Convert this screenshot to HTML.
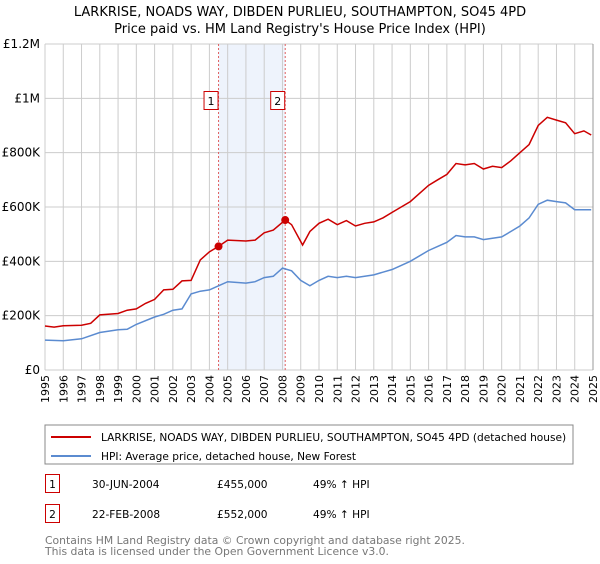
<!DOCTYPE html>
<html><head><meta charset="utf-8"><style>
body{margin:0;background:#fff;font-family:"DejaVu Sans","Liberation Sans",sans-serif;}
svg text{font-family:"DejaVu Sans","Liberation Sans",sans-serif;}
</style></head><body>
<svg id="c" width="600" height="560" xmlns="http://www.w3.org/2000/svg">
<text x="300" y="16" text-anchor="middle" font-size="13">LARKRISE, NOADS WAY, DIBDEN PURLIEU, SOUTHAMPTON, SO45 4PD</text>
<text x="300" y="33" text-anchor="middle" font-size="13">Price paid vs. HM Land Registry's House Price Index (HPI)</text>
<g id="plot"></g>
<rect x="45" y="425" width="528" height="39" fill="#fff" stroke="#888"/>
<line x1="51" y1="437" x2="91" y2="437" stroke="#cc0000" stroke-width="2"/>
<text x="101" y="441" font-size="10.6">LARKRISE, NOADS WAY, DIBDEN PURLIEU, SOUTHAMPTON, SO45 4PD (detached house)</text>
<line x1="51" y1="456" x2="91" y2="456" stroke="#5b8bd0" stroke-width="2"/>
<text x="101" y="460" font-size="10.6">HPI: Average price, detached house, New Forest</text>
<g font-size="10.6">
<rect x="45.5" y="474.5" width="14" height="18" fill="#fff" stroke="#cc0000"/>
<text x="52.5" y="488" text-anchor="middle">1</text>
<text x="92" y="488">30-JUN-2004</text><text x="217" y="488">£455,000</text><text x="313" y="488">49% ↑ HPI</text>
<rect x="45.5" y="504.5" width="14" height="18" fill="#fff" stroke="#cc0000"/>
<text x="52.5" y="518" text-anchor="middle">2</text>
<text x="92" y="518">22-FEB-2008</text><text x="217" y="518">£552,000</text><text x="313" y="518">49% ↑ HPI</text>
</g>
<text x="45" y="544" font-size="10.8" fill="#777">Contains HM Land Registry data © Crown copyright and database right 2025.</text>
<text x="45" y="555" font-size="10.8" fill="#777">This data is licensed under the Open Government Licence v3.0.</text>
</svg>
<script>
const yTicks=[0,200,400,600,800,1000,1200];
const yTickLabels=["£0","£200K","£400K","£600K","£800K","£1M","£1.2M"];
const years=[1995,1996,1997,1998,1999,2000,2001,2002,2003,2004,2005,2006,2007,2008,2009,2010,2011,2012,2013,2014,2015,2016,2017,2018,2019,2020,2021,2022,2023,2024,2025];
const redT=[1995,1995.5,1996,1997,1997.5,1998,1999,1999.5,2000,2000.5,2001,2001.5,2002,2002.5,2003,2003.5,2004,2004.5,2005,2006,2006.5,2007,2007.5,2008.15,2008.5,2009.1,2009.5,2010,2010.5,2011,2011.5,2012,2012.5,2013,2013.5,2014,2014.5,2015,2016,2016.5,2017,2017.5,2018,2018.5,2019,2019.5,2020,2020.5,2021,2021.5,2022,2022.5,2023,2023.5,2024,2024.5,2024.9];
const redV=[162,158,163,165,172,203,208,220,225,245,260,295,297,328,330,405,435,455,478,475,478,505,515,552,535,460,510,540,555,535,550,530,540,545,560,580,600,620,680,700,720,760,755,760,740,750,745,770,800,830,900,930,920,910,870,880,865];
const blueT=[1995,1996,1997,1998,1999,1999.5,2000,2001,2001.5,2002,2002.5,2003,2003.5,2004,2004.5,2005,2006,2006.5,2007,2007.5,2008,2008.5,2009,2009.5,2010,2010.5,2011,2011.5,2012,2012.5,2013,2013.5,2014,2014.5,2015,2016,2016.5,2017,2017.5,2018,2018.5,2019,2019.5,2020,2020.5,2021,2021.5,2022,2022.5,2023,2023.5,2024,2024.9];
const blueV=[110,108,115,138,148,150,168,195,205,220,225,280,290,295,310,325,320,325,340,345,375,365,330,310,330,345,340,345,340,345,350,360,370,385,400,440,455,470,495,490,490,480,485,490,510,530,560,610,625,620,615,590,590];
const saleT=[2004.5,2008.15];
const saleV=[455,552];
const saleLabels=["1","2"];
const X0=45,X1=593,Y0=370,Y1=44;
const sx=t=>X0+(t-1995)/30*(X1-X0);
const sy=v=>Y0-v/1200*(Y0-Y1);
const NS="http://www.w3.org/2000/svg";
const g=document.getElementById('plot');
function mk(tag,attrs,parent){const e=document.createElementNS(NS,tag);for(const k in attrs)e.setAttribute(k,attrs[k]);(parent||g).appendChild(e);return e;}
let sh=mk('rect',{x:sx(saleT[0]),y:Y1,width:sx(saleT[1])-sx(saleT[0]),height:Y0-Y1,fill:'#eef3fc'});


years.forEach(y=>{let l=mk('line',{x1:sx(y),x2:sx(y),y1:Y1,y2:Y0,stroke:'#ccc'});


let t=mk('text',{x:0,y:0,'font-size':11,'text-anchor':'end',transform:`translate(${sx(y)+4},375) rotate(-90)`});t.textContent=y;

});
yTicks.forEach((v,i)=>{let l=mk('line',{x1:X0,x2:X1,y1:sy(v),y2:sy(v),stroke:'#ccc'});


let t=mk('text',{x:40,y:sy(v)+4,'font-size':12,'text-anchor':'end'});t.textContent=yTickLabels[i];

});
saleT.forEach((t,i)=>{let l=mk('line',{x1:sx(t),x2:sx(t),y1:Y1,y2:Y0,stroke:'#e06060','stroke-dasharray':'2,2'});


let b=mk('rect',{x:sx(t)-14.5,y:91.5,width:14,height:18,fill:'#fff',stroke:'#cc0000'});


let tx=mk('text',{x:sx(t)-7.5,y:105,'font-size':11,'text-anchor':'middle'});tx.textContent=saleLabels[i];

});
function line(T,V,col,name){let p=mk('polyline',{points:T.map((t,i)=>sx(t).toFixed(1)+','+sy(V[i]).toFixed(1)).join(' '),fill:'none',stroke:col,'stroke-width':1.5});

}
line(blueT,blueV,'#5b8bd0','hpi-line');
line(redT,redV,'#cc0000','property-price-line');
saleT.forEach((t,i)=>{let c=mk('circle',{cx:sx(t),cy:sy(saleV[i]),r:4,fill:'#cc0000'});

});
let ax=mk('line',{x1:X1,x2:X1,y1:Y1,y2:Y0,stroke:'#999'});


</script>
</body></html>
